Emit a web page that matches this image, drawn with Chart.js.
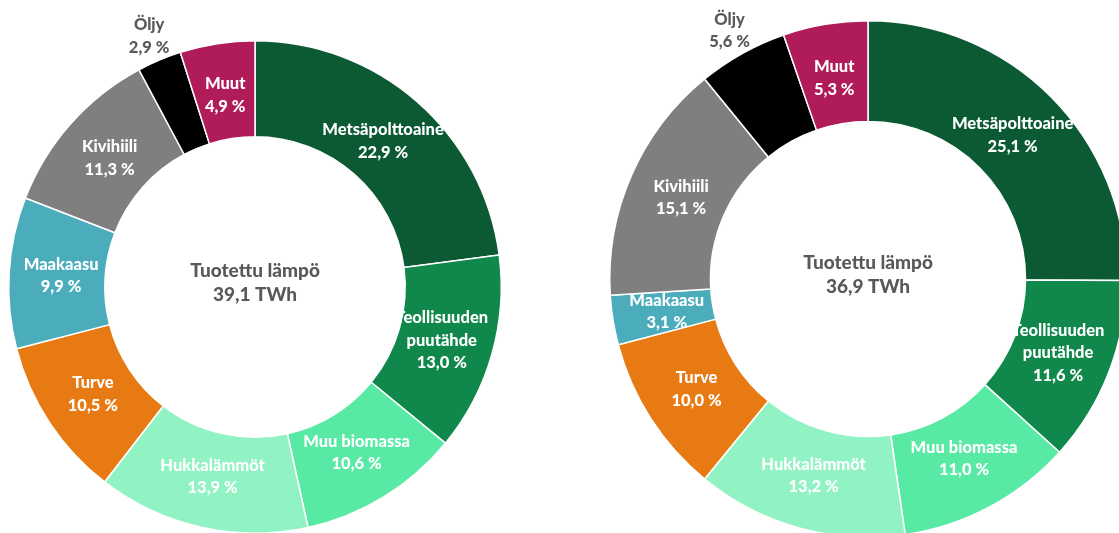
<!DOCTYPE html>
<html lang="fi">
<head>
<meta charset="utf-8">
<title>Tuotettu lämpö</title>
<script src="https://cdn.jsdelivr.net/npm/chart.js@4/dist/chart.umd.min.js"></script>
<style>
    html, body {
        margin: 0;
        padding: 0;
        background: #ffffff;
    }
    body {
        position: relative;
        width: 1119px;
        height: 533px;
        overflow: hidden;
    }
    canvas {
        position: absolute;
    }
    #heatChartA {
        left: -42px;
        top: -10px;
    }
    #heatChartB {
        left: 559px;
        top: -30px;
    }
</style>
</head>
<body>
<canvas id="heatChartA" width="594" height="594"></canvas>
<canvas id="heatChartB" width="618" height="618"></canvas>
<script>
const categories = [
    ['Metsäpolttoaine'],
    ['Teollisuuden', 'puutähde'],
    ['Muu biomassa'],
    ['Hukkalämmöt'],
    ['Turve'],
    ['Maakaasu'],
    ['Kivihiili'],
    ['Öljy'],
    ['Muut']
];

const sharesA = [22.9, 13.0, 10.6, 13.9, 10.5, 9.9, 11.3, 2.9, 4.9];
const sharesB = [25.1, 11.6, 11.0, 13.2, 10.0, 3.1, 15.1, 5.6, 5.3];

const centerTitle = 'Tuotettu lämpö';
const totalA = 39.1;
const totalB = 36.9;

const sliceColors = ['#0B5A34', '#11884B', '#58EAA4', '#91F3C4', '#E87A14', '#4BACBC', '#7F7F7F', '#000000', '#B01B59'];

const fontFamily = 'Lato, "Open Sans", sans-serif';
const greyText = '#595959';

function fiNumber(v) {
    return v.toFixed(1).replace('.', ',');
}

// draws the slice labels and the text in the hole
const donutLabels = {
    id: 'donutLabels',
    afterDatasetsDraw(chart, args, opts) {
        const ctx = chart.ctx;
        const meta = chart.getDatasetMeta(0);
        const values = chart.data.datasets[0].data;

        ctx.save();
        ctx.textAlign = 'center';
        ctx.textBaseline = 'middle';
        ctx.font = '900 16.5px ' + fontFamily;

        meta.data.forEach(function (arc, i) {
            const p = arc.getProps(['x', 'y', 'startAngle', 'endAngle', 'innerRadius', 'outerRadius'], true);
            const mid = (p.startAngle + p.endAngle) / 2;
            const outside = opts.outside.indexOf(i) !== -1;
            const r = outside ? p.outerRadius + 26 : (p.innerRadius + p.outerRadius) / 2 - 4;
            const lines = categories[i].concat([fiNumber(values[i]) + ' %']);
            const lh = 22.5;
            const x = p.x + Math.cos(mid) * r;
            const y = p.y + Math.sin(mid) * r - (lines.length - 1) * lh / 2;

            ctx.fillStyle = outside ? greyText : '#ffffff';
            lines.forEach(function (t, k) {
                ctx.fillText(t, x, y + k * lh);
            });
        });

        const c = meta.data[0];
        ctx.fillStyle = greyText;
        ctx.font = '900 19px ' + fontFamily;
        ctx.fillText(centerTitle, c.x, c.y - 16);
        ctx.fillText(fiNumber(opts.total) + ' TWh', c.x, c.y + 8);
        ctx.restore();
    }
};

function makeDonut(canvasId, shares, total) {
    const ctx = document.getElementById(canvasId).getContext('2d');

    return new Chart(ctx, {
        type: 'doughnut',
        data: {
            labels: categories.map(function (c) { return c.join(' '); }),
            datasets: [
                {
                    data: shares,
                    backgroundColor: sliceColors,
                    borderColor: '#ffffff',
                    borderWidth: 1.5
                }
            ]
        },
        options: {
            responsive: false,
            animation: false,
            cutout: '61%',
            layout: {
                padding: 50
            },
            plugins: {
                legend: {
                    display: false
                },
                tooltip: {
                    enabled: false
                },
                donutLabels: {
                    total: total,
                    outside: [7]
                }
            }
        },
        plugins: [donutLabels]
    });
}

window.addEventListener('load', function () {
    makeDonut('heatChartA', sharesA, totalA);
    makeDonut('heatChartB', sharesB, totalB);
});
</script>
</body>
</html>
